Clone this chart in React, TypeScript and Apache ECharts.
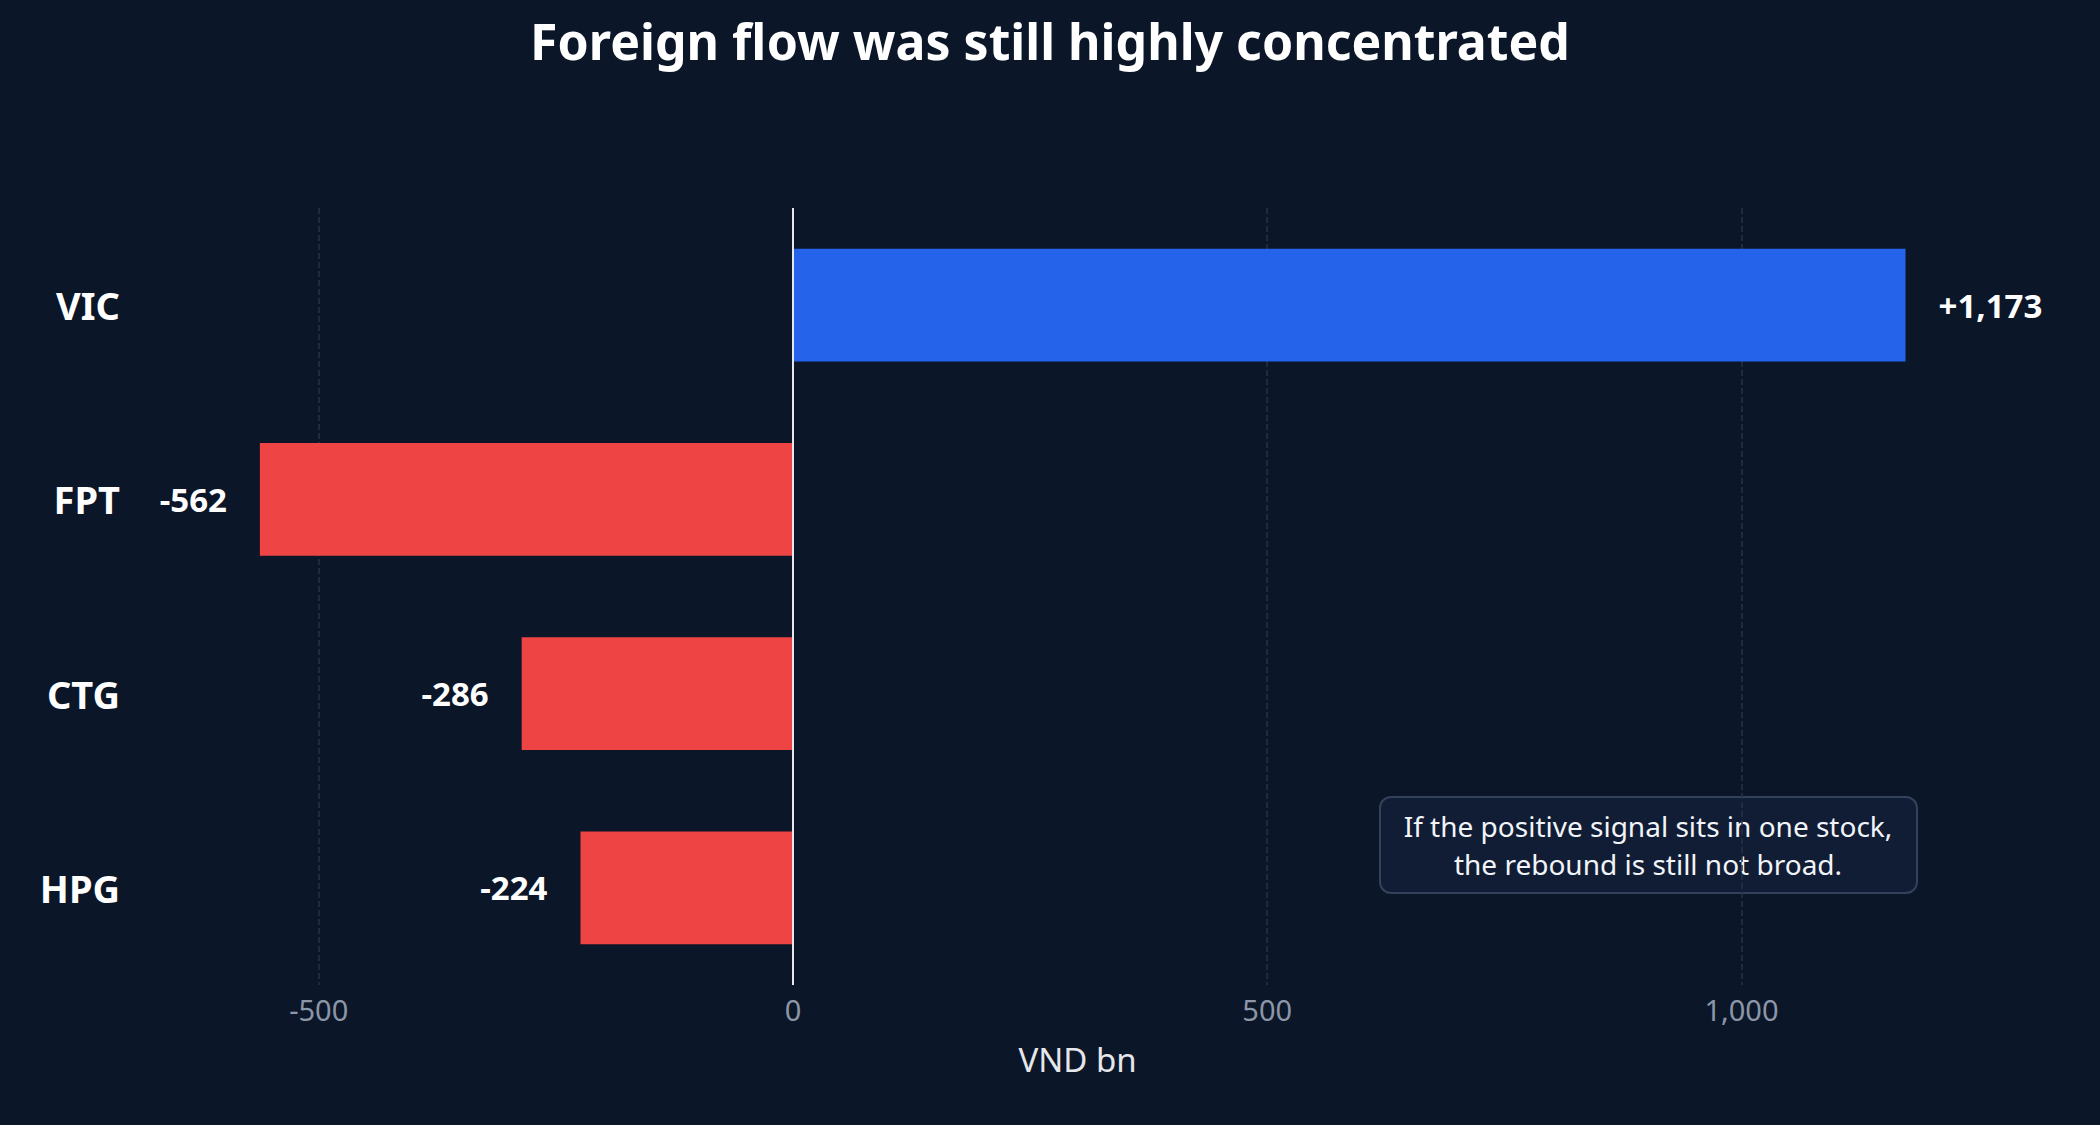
import React, { useEffect, useRef } from 'react';
import * as echarts from 'echarts';

const categories = ['VIC', 'FPT', 'CTG', 'HPG'];
const flows = [1173, -562, -286, -224];
const tickValues = [-500, 0, 500, 1000];
const gridValues = [-500, 500, 1000];
const noteLines = ['If the positive signal sits in one stock,', 'the rebound is still not broad.'];

const FONT = '"Noto Sans", sans-serif';
const BG = '#0b1628';

export default function App() {
  const chartRef = useRef<HTMLDivElement>(null);

  useEffect(() => {
    document.body.style.margin = '0';
    document.body.style.background = BG;
    if (!chartRef.current) return;
    const chart = echarts.init(chartRef.current, null, { renderer: 'svg' });

    const option: echarts.EChartsOption = {
      animation: false,
      backgroundColor: BG,
      textStyle: { fontFamily: FONT },
      title: {
        text: 'Foreign flow was still highly concentrated',
        left: 'center',
        top: 11,
        textStyle: { color: '#ffffff', fontSize: 50, fontWeight: 'bold', fontFamily: FONT },
      },
      grid: { left: 129, right: 74, top: 208, bottom: 140 },
      xAxis: {
        type: 'value',
        min: -700,
        max: 1300,
        interval: 100,
        name: 'VND bn',
        nameLocation: 'middle',
        nameGap: 58,
        nameTextStyle: { color: '#e5e7eb', fontSize: 33, fontFamily: FONT },
        axisLine: { show: false },
        axisTick: { show: false },
        splitLine: { show: false },
        axisLabel: {
          color: '#8b96a8',
          fontSize: 29,
          margin: 10,
          fontFamily: FONT,
          formatter: (v: number) => (tickValues.includes(v) ? v.toLocaleString('en-US') : ''),
        },
      },
      yAxis: {
        type: 'category',
        data: categories,
        inverse: true,
        axisLine: { show: false },
        axisTick: { show: false },
        axisLabel: {
          color: '#ffffff',
          fontSize: 38,
          fontWeight: 'bold',
          margin: 9,
          fontFamily: FONT,
        },
      },
      series: [
        {
          // faint dashed grid lines, drawn behind the bars
          type: 'line',
          data: [],
          markLine: {
            silent: true,
            z: 1,
            symbol: 'none',
            label: { show: false },
            lineStyle: { color: '#243349', type: 'dashed', width: 1.5 },
            data: gridValues.map((v) => ({ xAxis: v })),
          },
        },
        {
          type: 'bar',
          z: 2,
          barWidth: '58%',
          data: flows.map((v) => ({
            value: v,
            itemStyle: { color: v >= 0 ? '#2563eb' : '#ef4444' },
            label: { position: v >= 0 ? 'right' : 'left' },
          })),
          label: {
            show: true,
            distance: 33,
            color: '#ffffff',
            fontSize: 33,
            fontWeight: 'bold',
            fontFamily: FONT,
            formatter: (p: any) => (p.value > 0 ? '+' : '') + p.value.toLocaleString('en-US'),
          },
          markLine: {
            silent: true,
            z: 5,
            symbol: 'none',
            label: { show: false },
            lineStyle: { color: '#e5e7eb', type: 'solid', width: 2 },
            data: [{ xAxis: 0 }],
          },
        },
      ],
      graphic: [
        {
          type: 'group',
          left: 1379,
          top: 796,
          children: [
            {
              type: 'rect',
              shape: { x: 0, y: 0, width: 537, height: 96, r: 11 },
              style: { fill: '#111d35', stroke: '#33425b', lineWidth: 2 },
            },
            ...noteLines.map((line, i) => ({
              type: 'text' as const,
              x: 268,
              y: 29 + i * 38,
              style: {
                text: line,
                fill: '#f1f5f9',
                font: `28px ${FONT}`,
                align: 'center' as const,
                verticalAlign: 'middle' as const,
              },
            })),
          ],
        },
      ],
    };
    chart.setOption(option);

    const resizeHandler = () => chart.resize();
    window.addEventListener('resize', resizeHandler);
    return () => {
      window.removeEventListener('resize', resizeHandler);
      chart.dispose();
    };
  }, []);

  return <div ref={chartRef} style={{ width: '2100px', height: '1125px' }} />;
}
